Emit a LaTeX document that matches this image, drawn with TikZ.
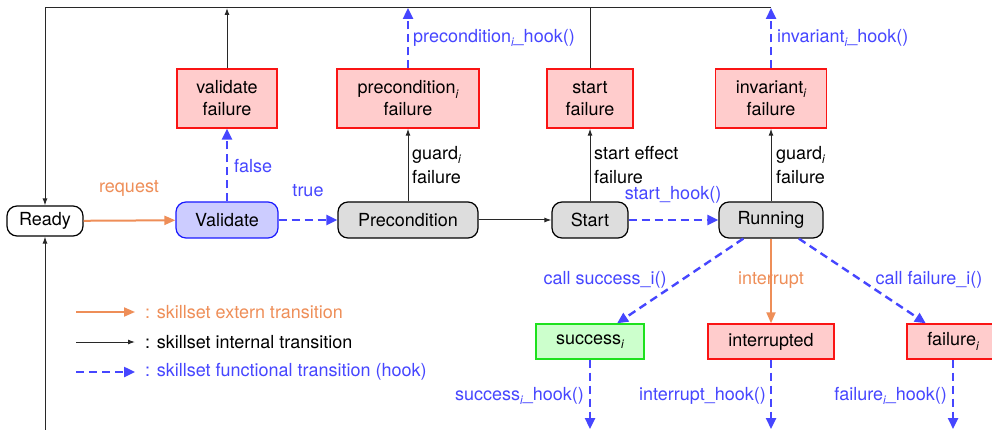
\documentclass[tikz,border=0pt]{standalone}
\usepackage{fontspec}
\setmainfont{TeX Gyre Heros}
\usetikzlibrary{arrows.meta}

\definecolor{hookblue}{RGB}{70,70,255}
\definecolor{extorange}{RGB}{238,142,88}
\definecolor{failfill}{RGB}{255,204,204}
\definecolor{faildraw}{RGB}{250,20,20}
\definecolor{okfill}{RGB}{204,255,204}
\definecolor{okdraw}{RGB}{30,225,30}
\definecolor{valfill}{RGB}{204,204,255}
\definecolor{valdraw}{RGB}{25,25,255}
\definecolor{statefill}{RGB}{221,221,221}
\definecolor{wire}{RGB}{40,40,40}

% italic index written below the baseline
\newcommand\subi{\raisebox{-0.45ex}{\fontsize{12}{12}\selectfont\itshape i}}

\begin{document}
\begin{tikzpicture}[x=1pt,y=-1pt,
  every node/.style={font=\fontsize{18}{22}\selectfont, inner sep=0pt},
  state/.style={draw=black, fill=statefill, rounded corners=10pt, line width=1.2pt, minimum height=36pt},
  failbox/.style={draw=faildraw, fill=failfill, line width=1.4pt, align=center},
  okbox/.style={draw=okdraw, fill=okfill, line width=1.4pt},
  hooklbl/.style={text=hookblue},
  extlbl/.style={text=extorange},
  hook/.style={draw=hookblue, line width=2.4pt, dash pattern=on 8pt off 5pt,
    -{Triangle[length=11pt,width=10pt]}},
  ext/.style={draw=extorange, line width=2pt, -{Triangle[length=11pt,width=9pt]}},
  int/.style={draw=wire, line width=1pt, -{Latex[length=7pt,width=5pt]}},
  plain/.style={draw=wire, line width=1pt}]

\useasboundingbox (0,0) rectangle (992,430);
\clip (0,0) rectangle (992,430);

% states of the skill
\node[state, fill=white, minimum width=76pt, minimum height=30pt] (ready) at (45,221) {Ready};
\node[state, draw=valdraw, fill=valfill, minimum width=102pt] (val) at (227,220) {Validate};
\node[state, minimum width=140pt] (pre) at (408,220) {Precondition};
\node[state, minimum width=76pt] (start) at (590,220) {Start};
\node[state, minimum width=104pt] (run) at (771,220) {Running};

% failure states of the upper row
\node[failbox, minimum width=100pt, minimum height=59pt] (vfail) at (227,98.5) {validate\\failure};
\node[failbox, minimum width=142pt, minimum height=59pt] (pfail) at (408,98.5) {precondition\subi\\failure};
\node[failbox, minimum width=86pt, minimum height=59pt] (sfail) at (590,98.5) {start\\failure};
\node[failbox, minimum width=111pt, minimum height=59pt] (ifail) at (771,98.5) {invariant\subi\\failure};

% terminal states
\node[okbox, minimum width=108pt, minimum height=35pt] (succ) at (590,341.5) {success\subi};
\node[failbox, minimum width=126pt, minimum height=35pt] (intr) at (771,341.5) {interrupted};
\node[failbox, minimum width=92pt, minimum height=35pt] (fail) at (953,341.5) {failure\subi};

% return line along the top and the free ends at the bottom
\coordinate (topl) at (45,8);
\coordinate (botl) at (45,432);
\coordinate (botr) at (45,429);

% main chain
\draw[ext] (ready) -- (val);
\draw[hook] (val) -- (pre);
\draw[int] (pre) -- (start);
\draw[hook] (start) -- (run);

% failures
\draw[hook] (val) -- (vfail);
\draw[int] (pre) -- (pfail);
\draw[int] (start) -- (sfail);
\draw[int] (run) -- (ifail);

% back to Ready
\draw[int] (vfail.north) -- (vfail.north |- topl);
\draw[hook] (pfail.north) -- (pfail.north |- topl);
\draw[plain] (sfail.north) -- (sfail.north |- topl);
\draw[hook] (ifail.north) -- (ifail.north |- topl);
\draw[int] (ifail.north |- topl) -- (topl) -- (ready);
\draw[int] (botl) -- (ready);

% ends of the run
\draw[hook] (run) -- (succ);
\draw[ext] (run) -- (intr);
\draw[hook] (run) -- (fail);
\draw[hook] (succ.south) -- (succ.south |- botr);
\draw[hook] (intr.south) -- (intr.south |- botr);
\draw[hook] (fail.south) -- (fail.south |- botr);

% transition labels
\node[extlbl] (lreq) at (129,188) {request};
\node[hooklbl, anchor=west] (lfalse) at (234,166) {false};
\node[hooklbl] (ltrue) at (308,191) {true};
\node[anchor=west, align=left] (lgp) at (412,165) {guard\subi\\[2pt]failure};
\node[anchor=west, align=left] (lse) at (594,165) {start effect\\[2pt]failure};
\node[anchor=west, align=left] (lgi) at (776,165) {guard\subi\\[2pt]failure};
\node[hooklbl, anchor=west] (lph) at (413,38) {precondition\subi\_hook()};
\node[hooklbl, anchor=west] (lih) at (777,38) {invariant\subi\_hook()};
\node[hooklbl] (lsh) at (673,195) {start\_hook()};
\node[hooklbl] (lcs) at (605,280) {call success\_i()};
\node[extlbl] (lint) at (771,280) {interrupt};
\node[hooklbl] (lcf) at (929,280) {call failure\_i()};
\node[hooklbl, anchor=east] (lsuh) at (584,396) {success\subi\_hook()};
\node[hooklbl, anchor=east] (linh) at (766,396) {interrupt\_hook()};
\node[hooklbl, anchor=east] (lfah) at (947,396) {failure\subi\_hook()};

% legend
\coordinate (k1a) at (76,312); \coordinate (k1b) at (135,312);
\coordinate (k2a) at (76,342); \coordinate (k2b) at (135,342);
\coordinate (k3a) at (76,372); \coordinate (k3b) at (135,372);
\draw[ext] (k1a) -- (k1b);
\draw[int] (k2a) -- (k2b);
\draw[hook] (k3a) -- (k3b);
\node[extlbl, anchor=west] (kt1) at (145,312) {: skillset extern transition};
\node[anchor=west] (kt2) at (145,342) {: skillset internal transition};
\node[hooklbl, anchor=west] (kt3) at (145,372) {: skillset functional transition (hook)};
\end{tikzpicture}
\end{document}
